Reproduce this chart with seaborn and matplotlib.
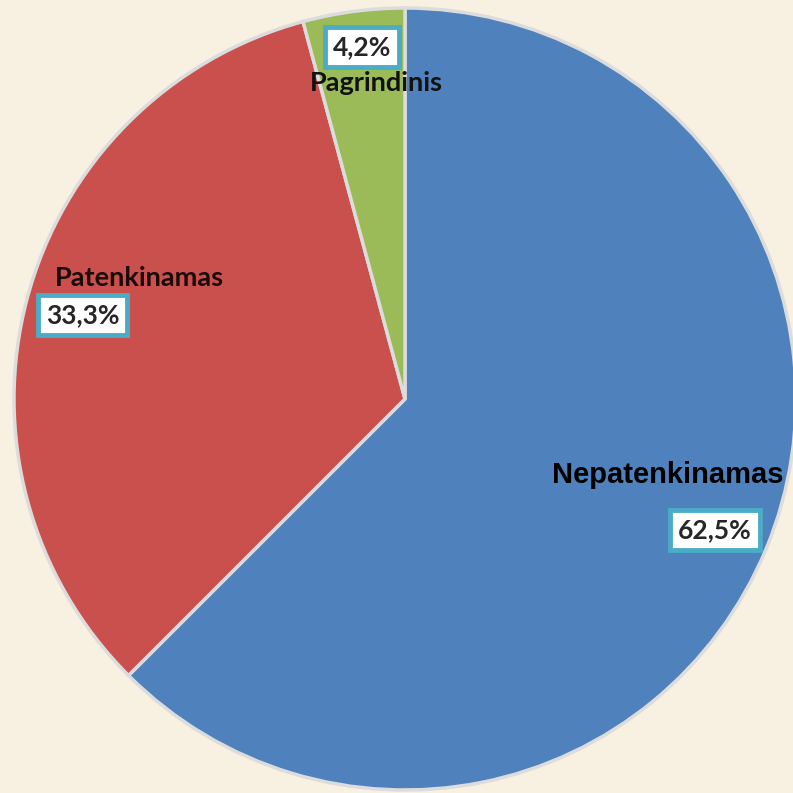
import matplotlib.pyplot as plt
import seaborn as sns

# slice data (clockwise from 12 o'clock)
categories = ['Nepatenkinamas', 'Patenkinamas', 'Pagrindinis']
shares = [62.5, 33.3, 4.2]
pct_labels = ['62,5%', '33,3%', '4,2%']

sns.set_style('white')
colors = ['#4F81BD', '#C9504C', '#9BBB59']
bg = '#F8F1E2'

fig = plt.figure(figsize=(7.93, 7.93), dpi=100, facecolor=bg)
ax = fig.add_axes([0, 0, 1, 1])
ax.set_facecolor(bg)

wedges, _ = ax.pie(shares, colors=colors, startangle=90, counterclock=False,
                   radius=1.0,
                   wedgeprops=dict(edgecolor='#DCDCDC', linewidth=2.5))

# pixel layout: centre at (405, 399), radius 391 px
ax.set_xlim(-405 / 391, (793 - 405) / 391)
ax.set_ylim(-(793 - 399) / 391, 399 / 391)
ax.set_aspect('equal')
ax.axis('off')

box = dict(boxstyle='square,pad=0.3', facecolor='white',
           edgecolor='#4BACC6', linewidth=3.5)

# Nepatenkinamas
ax.text(0.673, -0.194, categories[0], ha='center', va='center',
        fontsize=21, fontweight='bold', family='Liberation Sans', color='black')
ax.text(0.793, -0.335, pct_labels[0], ha='center', va='center',
        fontsize=19, fontweight='bold', family='Lato', bbox=box)

# Patenkinamas
ax.text(-0.680, 0.309, categories[1], ha='center', va='center',
        fontsize=19.5, fontweight='bold', family='Lato', color='#1a0a0a')
ax.text(-0.824, 0.215, pct_labels[1], ha='center', va='center',
        fontsize=19, fontweight='bold', family='Lato', bbox=box)

# Pagrindinis
ax.text(-0.074, 0.808, categories[2], ha='center', va='center',
        fontsize=19.5, fontweight='bold', family='Lato', color='#111111')
ax.text(-0.110, 0.900, pct_labels[2], ha='center', va='center',
        fontsize=19, fontweight='bold', family='Lato', bbox=box)

fig.savefig('out.png', dpi=100, facecolor=bg)
